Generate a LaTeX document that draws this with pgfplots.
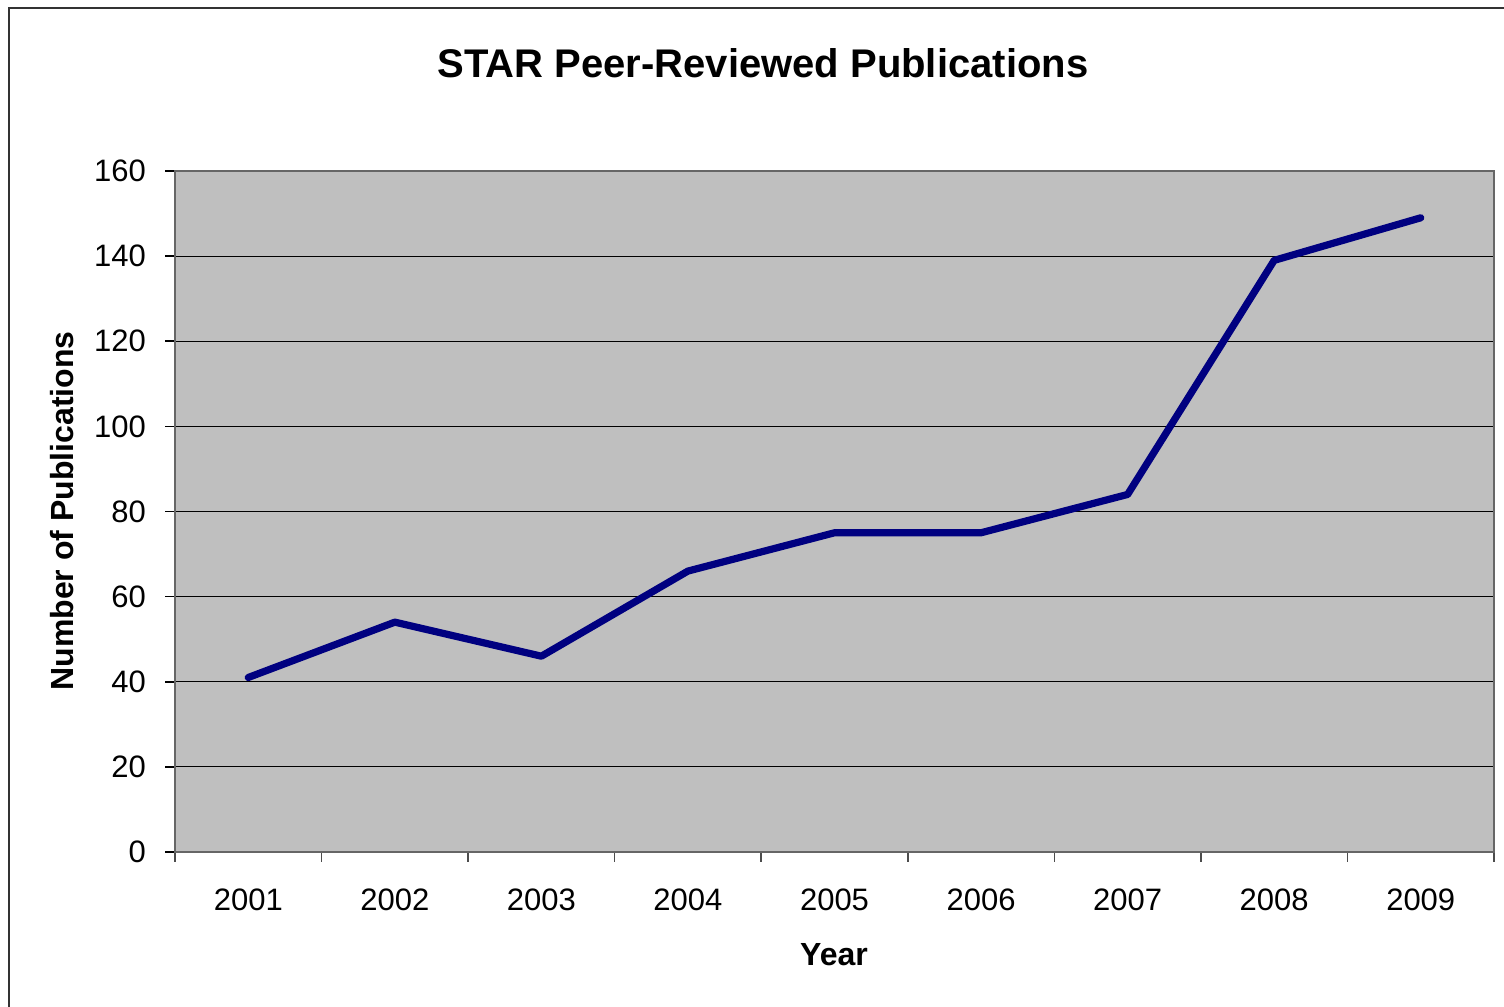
\documentclass[border=0pt]{standalone}
\usepackage{fontspec}
\setmainfont{Liberation Sans}
\usepackage{pgfplots}
\pgfplotsset{compat=1.18}
\begin{document}
\begin{tikzpicture}[x=1bp,y=1bp]
\useasboundingbox (0,0) rectangle (752,503.5);
\draw[line width=0.8bp, black!80] (4.5,-20) rectangle (800,499.5);
\begin{axis}[
  at={(87.5bp,77.5bp)}, anchor=south west,
  scale only axis, width=659.5bp, height=340.5bp,
  xmin=-0.5, xmax=8.5, ymin=0, ymax=160,
  axis background/.style={fill=black!25},
  axis line style={draw=black!60, line width=0.8bp},
  xtick={0,...,8},
  xticklabels={2001,2002,2003,2004,2005,2006,2007,2008,2009},
  minor xtick={-0.5,0.5,...,8.5},
  major x tick style={draw=none},
  minor x tick style={draw=black!70, line width=0.8bp},
  minor tick length=5bp,
  ytick={0,20,...,160},
  major tick length=5bp,
  y tick style={draw=black, line width=0.8bp},
  tick align=outside,
  xtick pos=bottom, ytick pos=left,
  ymajorgrids, grid style={black, line width=0.5bp},
  xticklabel style={font=\fontsize{15.5bp}{18bp}\selectfont, yshift=-10bp},
  yticklabel style={font=\fontsize{15.5bp}{18bp}\selectfont, xshift=-6bp},
  /pgf/number format/assume math mode=true,
  clip=false,
]
\addplot[color={rgb,255:red,0;green,0;blue,128}, line width=3.6bp, line cap=round, line join=round] coordinates {
(0,41) (1,54) (2,46) (3,66) (4,75) (5,75) (6,84) (7,139) (8,149)};
\end{axis}
\node[font=\bfseries\fontsize{20bp}{24bp}\selectfont] at (381.5,472) {STAR Peer-Reviewed Publications};
\node[font=\bfseries\fontsize{16bp}{19bp}\selectfont, rotate=90] at (31,248) {Number of Publications};
\node[font=\bfseries\fontsize{16bp}{19bp}\selectfont] at (417,26) {Year};
\end{tikzpicture}
\end{document}
